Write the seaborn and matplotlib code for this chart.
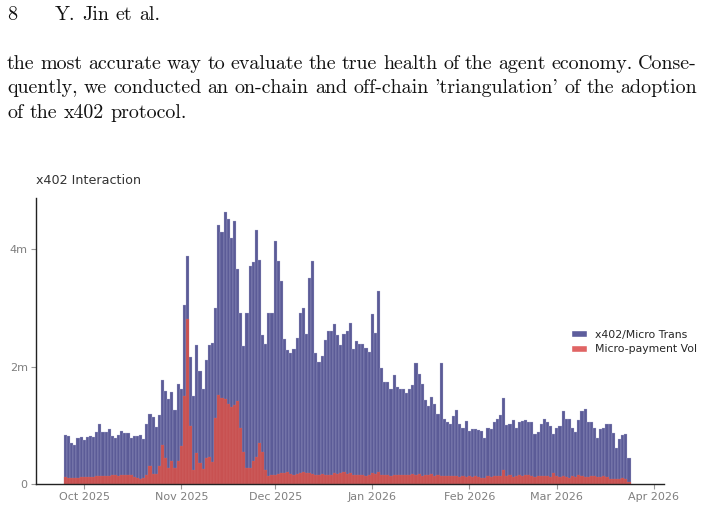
import numpy as np
import pandas as pd
import matplotlib
matplotlib.use("Agg")
import matplotlib.pyplot as plt
import matplotlib.dates as mdates
from matplotlib.patches import Patch
from matplotlib.ticker import FixedLocator, FuncFormatter
import seaborn as sns

# ---- data (millions per day) ----
START_DATE = "2025-09-25"
micro_trans = [
    0.835, 0.82, 0.69, 0.665, 0.78, 0.795, 0.75, 0.795, 0.82, 0.795,
    0.88, 1.02, 0.88, 0.89, 0.93, 0.82, 0.78, 0.835, 0.91, 0.86,
    0.875, 0.78, 0.825, 0.825, 0.835, 0.77, 1.02, 1.20, 1.14, 0.97,
    1.18, 1.77, 1.58, 1.44, 1.56, 1.26, 1.70, 1.62,
    3.05, 3.89, 2.17, 1.50, 2.37, 1.92, 1.62, 2.11, 2.37, 2.40,
    3.00, 4.41, 4.29, 4.64, 4.52, 4.19, 4.48, 3.66, 2.91, 2.35,
    2.91, 3.72, 3.78, 4.33, 3.81, 2.54, 2.39, 2.91, 2.91, 4.14,
    3.80, 3.45, 2.47, 2.28, 2.23, 2.30, 2.48, 2.92, 2.99, 2.55,
    3.51, 3.79, 2.23, 2.07, 2.18, 2.46, 2.61, 2.60, 2.73, 2.54,
    2.37, 2.56, 2.60, 2.75, 2.30, 2.44, 2.39, 2.38, 2.31, 2.24,
    2.90, 2.57, 3.28, 1.97, 1.74, 1.73, 1.62, 1.86, 1.65, 1.61,
    1.61, 1.55, 1.61, 1.68, 2.06, 1.88, 1.70, 1.43, 1.32, 1.48,
    1.36, 1.20, 2.06, 1.11, 1.05, 1.03, 1.15, 1.26, 1.03, 0.95,
    1.08, 0.91, 0.94, 0.94, 0.92, 0.90, 0.79, 0.95, 0.93, 1.05,
    1.10, 1.18, 1.46, 1.01, 1.03, 1.09, 0.96, 1.06, 1.08, 1.09,
    1.06, 1.06, 0.85, 0.88, 1.02, 1.11, 1.06, 0.98, 0.85, 0.95,
    0.98, 1.24, 1.10, 1.10, 0.95, 0.89, 1.09, 1.24, 1.27, 1.06,
    1.06, 0.95, 0.78, 0.93, 0.95, 1.03, 1.03, 0.86, 0.61, 0.76,
    0.84, 0.85, 0.45,
]
micro_payment = [
    0.12, 0.11, 0.11, 0.10, 0.11, 0.12, 0.12, 0.12, 0.12, 0.12,
    0.13, 0.14, 0.14, 0.14, 0.14, 0.15, 0.15, 0.14, 0.16, 0.16,
    0.16, 0.15, 0.12, 0.10, 0.09, 0.11, 0.15, 0.31, 0.17, 0.17,
    0.30, 0.66, 0.45, 0.28, 0.40, 0.28, 0.39, 0.64, 1.50, 2.81,
    0.98, 0.23, 0.53, 0.35, 0.26, 0.44, 0.46, 0.37, 1.12, 1.52,
    1.47, 1.44, 1.37, 1.31, 1.34, 1.41, 0.95, 0.55, 0.28, 0.27,
    0.39, 0.46, 0.69, 0.54, 0.23, 0.14, 0.16, 0.16, 0.17, 0.18,
    0.19, 0.20, 0.17, 0.16, 0.17, 0.18, 0.20, 0.19, 0.18, 0.17,
    0.16, 0.15, 0.17, 0.16, 0.16, 0.15, 0.18, 0.17, 0.19, 0.20,
    0.17, 0.18, 0.16, 0.16, 0.15, 0.16, 0.14, 0.15, 0.18, 0.17,
    0.20, 0.16, 0.15, 0.15, 0.14, 0.16, 0.15, 0.16, 0.15, 0.16,
    0.16, 0.17, 0.16, 0.17, 0.13, 0.15, 0.15, 0.17, 0.14, 0.15,
    0.14, 0.13, 0.13, 0.14, 0.13, 0.13, 0.12, 0.13, 0.12, 0.13,
    0.12, 0.13, 0.12, 0.10, 0.11, 0.13, 0.12, 0.13, 0.14, 0.13,
    0.23, 0.13, 0.15, 0.12, 0.14, 0.15, 0.14, 0.15, 0.16, 0.13,
    0.12, 0.14, 0.14, 0.13, 0.13, 0.12, 0.18, 0.14, 0.12, 0.13,
    0.12, 0.11, 0.13, 0.12, 0.15, 0.13, 0.12, 0.12, 0.13, 0.13,
    0.12, 0.12, 0.13, 0.12, 0.09, 0.08, 0.09, 0.09, 0.10, 0.09,
    0.04,
]
y_ticks = [0, 2e6, 4e6]
y_ticklabels = ["0", "2m", "4m"]
legend_labels = ["x402/Micro Trans", "Micro-payment Vol"]

header_words = ["Y.", "Jin", "et", "al."]
body_lines = [
    ("the most accurate way to evaluate the true health of the agent economy. Conse-", True),
    ("quently, we conducted an on-chain and off-chain 'triangulation' of the adoption", True),
    ("of the x402 protocol.", False),
]

BLUE = "#5B5B97"
RED = "#C85151"
W, H = 704, 507

sns.set_style("white")
plt.rcParams["font.family"] = ["DejaVu Sans"]

dates = pd.date_range(START_DATE, periods=len(micro_trans), freq="D")
xnum = mdates.date2num(dates)
df = pd.DataFrame({"x": xnum,
                   "trans": np.array(micro_trans) * 1e6,
                   "pay": np.array(micro_payment) * 1e6})

fig = plt.figure(figsize=(W / 100, H / 100), dpi=100)
ax = fig.add_axes([36 / W, 1 - 484 / H, (664 - 36) / W, (484 - 198) / H])

# blue = total interactions, red overlaid from zero
sns.histplot(data=df, x="x", weights="trans", discrete=True, shrink=1,
             color=BLUE, alpha=1, edgecolor="#B9B9DA", linewidth=0.2, ax=ax)
sns.histplot(data=df, x="x", weights="pay", discrete=True, shrink=1,
             color=RED, alpha=1, edgecolor="#D67878", linewidth=0.15, ax=ax)

x0 = mdates.date2num(pd.Timestamp("2025-10-01"))
ax.set_xlim(x0 - 15.4, x0 + 185.2)
ax.set_ylim(0, 4.87e6)
ax.xaxis.set_major_locator(mdates.MonthLocator())
ax.xaxis.set_major_formatter(mdates.DateFormatter("%b %Y"))
ax.yaxis.set_major_locator(FixedLocator(y_ticks))
ax.yaxis.set_major_formatter(FuncFormatter(lambda v, p: y_ticklabels[y_ticks.index(v)] if v in y_ticks else ""))
ax.set_xlabel("")
ax.set_ylabel("")
ax.tick_params(axis="both", length=3.5, width=0.8, color="#999999",
               labelcolor="#7f7f7f", labelsize=8, pad=2.5, left=True, bottom=True)
for s in ["top", "right"]:
    ax.spines[s].set_visible(False)
for s in ["left", "bottom"]:
    ax.spines[s].set_color("#222222")
    ax.spines[s].set_linewidth(1.0)

fig.text(36 / W, 1 - 180 / H, "x402 Interaction", fontsize=9.2, color="#333333", va="center", ha="left")

handles = [Patch(facecolor="#5D5D9C"), Patch(facecolor="#E06464")]
ax.legend(handles, legend_labels, frameon=False, fontsize=7.8, loc="upper left",
          bbox_to_anchor=(563 / W, 1 - 322 / H), bbox_transform=fig.transFigure,
          handlelength=1.5, handleheight=0.6, handletextpad=0.8, labelspacing=0.45,
          borderpad=0.2)

# ---- page text (serif, justified) ----
SERIF = ["cmr10", "DejaVu Serif"]
FS = 14.4
renderer = fig.canvas.get_renderer()


def place_words(words, x_left, baseline, x_right=None, gap=6.6):
    texts = []
    for w in words:
        t = fig.text(0, 1 - baseline / H, w, family=SERIF, fontsize=FS,
                     color="#111111", va="baseline", ha="left")
        texts.append(t)
    widths = [t.get_window_extent(renderer).width for t in texts]
    if x_right is not None and len(words) > 1:
        gap = (x_right - x_left - sum(widths)) / (len(words) - 1)
    x = x_left
    for t, wd in zip(texts, widths):
        t.set_x(x / W)
        x += wd + gap


place_words(["8"], 7, 20)
place_words(header_words, 55, 20)
for k, (line, justify) in enumerate(body_lines):
    place_words(line.split(" "), 7, 69 + 24.5 * k, 697 if justify else None)

fig.savefig("out.png", dpi=100)
